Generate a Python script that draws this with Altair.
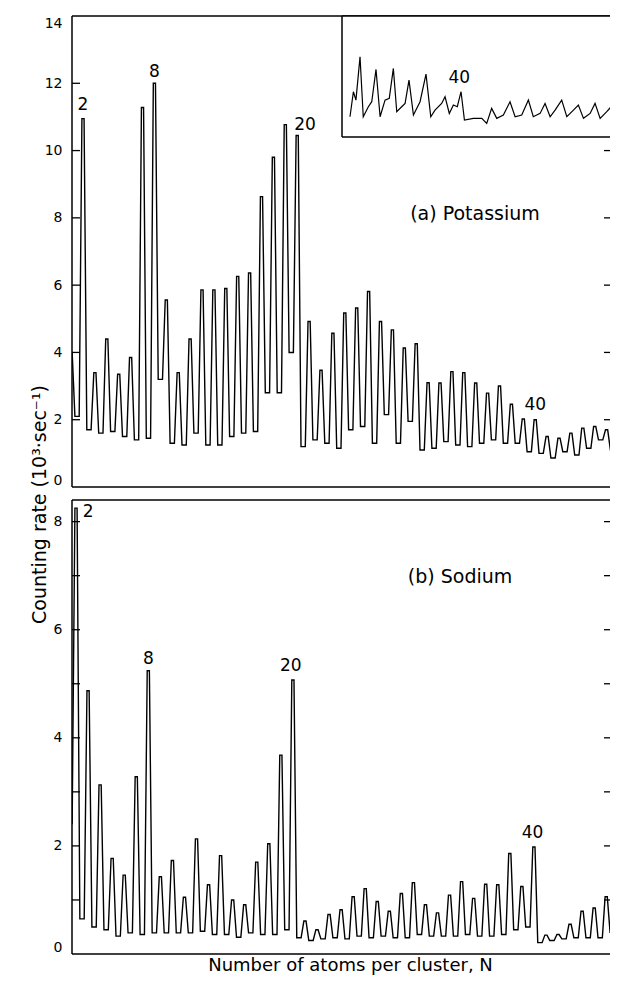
import altair as alt
import pandas as pd

# ---------------- data ----------------
# (a) Potassium: peak heights (10^3 counts/s) for N = 1..47
k_n = list(range(1, 48))
k_peak = [4.0, 10.95, 3.4, 4.4, 3.35, 3.85, 11.28, 12.0, 5.56, 3.4,
          4.4, 5.86, 5.86, 5.9, 6.26, 6.36, 8.63, 9.8, 10.77, 10.45,
          4.92, 3.47, 4.57, 5.17, 5.32, 5.81, 4.92, 4.67, 4.13, 4.26,
          3.1, 3.09, 3.43, 3.4, 3.09, 2.79, 3.0, 2.46, 2.02, 2.0,
          1.5, 1.45, 1.6, 1.75, 1.8, 1.7, 1.75]
# minimum between N=i and N=i+1, i = 0..47
k_valley = [3.0, 2.1, 1.7, 1.6, 1.65, 1.5, 1.4, 1.45, 3.2, 1.3,
            1.25, 1.6, 1.25, 1.25, 1.5, 1.6, 1.65, 2.8, 2.8, 4.0,
            1.2, 1.4, 1.3, 1.15, 1.7, 1.8, 1.3, 2.15, 1.3, 1.95,
            1.1, 1.15, 1.35, 1.25, 1.2, 1.3, 1.4, 1.3, 1.3, 1.05,
            1.0, 0.86, 1.05, 0.95, 1.15, 1.4, 1.1, 1.3]

# (b) Sodium: peak heights for N = 2..47
na_n = list(range(2, 48))
na_peak = [8.25, 4.87, 3.13, 1.77, 1.46, 3.28, 5.24, 1.43, 1.73, 1.05,
           2.13, 1.28, 1.82, 1.0, 0.91, 1.70, 2.04, 3.68, 5.07, 0.61,
           0.45, 0.73, 0.82, 1.06, 1.21, 0.97, 0.79, 1.12, 1.32, 0.91,
           0.76, 1.09, 1.34, 1.03, 1.29, 1.28, 1.86, 1.25, 1.98, 0.35,
           0.36, 0.55, 0.79, 0.85, 1.06, 0.97]
# minimum between N=i and N=i+1, i = 1..47
na_valley = [2.4, 0.65, 0.5, 0.45, 0.33, 0.39, 0.36, 0.39, 0.39, 0.39,
             0.39, 0.42, 0.36, 0.36, 0.31, 0.39, 0.36, 0.36, 0.45, 0.3,
             0.25, 0.28, 0.3, 0.28, 0.33, 0.3, 0.33, 0.3, 0.3, 0.36,
             0.33, 0.33, 0.33, 0.36, 0.33, 0.33, 0.36, 0.45, 0.5, 0.21,
             0.25, 0.28, 0.3, 0.3, 0.3, 0.4, 0.5]

# inset trace (potassium, N ~ 33..49), read point by point
inset_n = [33.47, 33.67, 33.82, 34.06, 34.25, 34.55, 34.75, 35.0, 35.24, 35.53,
           35.78, 36.02, 36.22, 36.51, 36.71, 36.94, 37.2, 37.59, 37.94, 38.22,
           38.47, 38.86, 39.06, 39.31, 39.55, 39.78, 40.0, 40.2, 40.73, 41.22,
           41.51, 41.8, 42.1, 42.49, 42.88, 43.18, 43.57, 43.96, 44.25, 44.65,
           44.94, 45.24, 45.53, 45.92, 46.22, 46.61, 46.9, 47.2, 47.59, 47.88,
           48.18, 48.57, 48.86, 49.06]
inset_rate = [2.01, 4.49, 3.66, 7.95, 2.01, 3.0, 3.5, 6.7, 2.01, 3.66,
              3.83, 6.8, 2.51, 3.0, 3.33, 5.64, 2.18, 3.5, 6.24, 2.01,
              2.67, 3.33, 3.99, 2.34, 3.17, 3.0, 4.49, 1.68, 1.85, 1.85,
              1.35, 2.84, 1.85, 2.18, 3.5, 2.01, 2.18, 3.66, 2.01, 2.34,
              3.33, 2.01, 2.67, 3.66, 2.01, 2.67, 3.17, 1.85, 2.34, 3.33,
              1.85, 2.51, 3.07, 2.18]

# annotations
k_lab_text = ["2", "8", "20", "40"]
k_lab_n = [2.0, 8.0, 20.66, 40.0]
k_lab_rate = [11.34, 12.35, 10.77, 2.44]
na_lab_text = ["2", "8", "20", "40"]
na_lab_n = [3.0, 8.0, 19.82, 39.88]
na_lab_rate = [8.18, 5.46, 5.33, 2.24]
inset_lab = ["40"]
inset_lab_n = [39.9]
inset_lab_rate = [5.84]

top_ticks = [2, 4, 6, 8, 10, 12]
top_labels = [0, 2, 4, 6, 8, 10, 12, 14]
bot_ticks = [1, 2, 3, 4, 5, 6, 7, 8]
bot_labels = [0, 2, 4, 6, 8]

# ---------------- layout (pixels inside the single plot area) ----------------
W = 538
H = 938
TOP_Y0, TOP_Y1 = 0, 471        # top panel
BOT_Y0, BOT_Y1 = 484, 938      # bottom panel
INSET_X0, INSET_Y1 = 270, 121
FONT = "DejaVu Sans"
LW = 1.5
HALF_BASE = 0.32
HALF_TOP = 0.09


def spectrum(ns, peaks, before, after):
    xs, ys = [], []
    for n, p, b, a in zip(ns, peaks, before, after):
        xs += [n - HALF_BASE, n - HALF_TOP, n + HALF_TOP, n + HALF_BASE]
        ys += [b, p, p, a]
    return pd.DataFrame({"n": xs, "rate": ys, "i": list(range(len(xs)))})


k_df = spectrum(k_n, k_peak, k_valley[:-1], k_valley[1:])
na_df = spectrum(na_n, na_peak, na_valley[:-1], na_valley[1:])
inset_df = pd.DataFrame({"n": inset_n, "rate": inset_rate, "i": list(range(len(inset_n)))})
one = pd.DataFrame({"a": [0]})


def hline(y, x0, x1):
    return alt.Chart(one).mark_rule(color="black", strokeWidth=LW).encode(
        x=alt.value(x0), x2=alt.value(x1), y=alt.value(y))


def vline(x, y0, y1):
    return alt.Chart(one).mark_rule(color="black", strokeWidth=LW).encode(
        x=alt.value(x), y=alt.value(y0), y2=alt.value(y1))


def panel(df, xdom, ydom, y0, y1, ticks, labels, lab_df, panel_text, x_axis, y_title):
    x = alt.X("n:Q", scale=alt.Scale(domain=xdom, range=[0, W], nice=False, zero=False),
              axis=x_axis)
    yaxis_kw = dict(orient="left", values=labels, ticks=False, tickSize=0, domain=False,
                    grid=False, labelFontSize=14, labelPadding=10, labelFlush=True,
                    labelColor="black", labelFont=FONT)
    if y_title:
        yaxis_kw.update(title="Counting rate  (10³·sec⁻¹)", titleFontSize=19,
                        titleFontWeight="normal", titleColor="black", titleFont=FONT,
                        titleAngle=270, titleX=-27, titleY=488, titleAlign="center",
                        titleBaseline="alphabetic")
    else:
        yaxis_kw.update(title="")
    y = alt.Y("rate:Q", scale=alt.Scale(domain=ydom, range=[y1, y0], nice=False, zero=False),
              axis=alt.Axis(**yaxis_kw))
    trace = alt.Chart(df).mark_line(color="black", strokeWidth=1.4, clip=True).encode(
        x=x, y=y, order="i:Q")
    tdf = pd.DataFrame({"rate": ticks})
    lt = alt.Chart(tdf).mark_rule(color="black", strokeWidth=1.3).encode(
        y=y, x=alt.value(0), x2=alt.value(8))
    rt = alt.Chart(tdf).mark_rule(color="black", strokeWidth=1.3).encode(
        y=y, x=alt.value(W - 6), x2=alt.value(W))
    labs = alt.Chart(lab_df).mark_text(fontSize=17, font=FONT, color="black",
                                       align="center", baseline="middle").encode(
        x=x, y=y, text="label:N")
    ptxt = alt.Chart(panel_text).mark_text(fontSize=19, font=FONT, color="black",
                                           align="center", baseline="middle").encode(
        x=x, y=y, text="label:N")
    frame = [hline(y0, 0, W), hline(y1, 0, W), vline(0, y0, y1)]
    return alt.layer(lt, rt, trace, labs, ptxt, *frame)


k_lab_df = pd.DataFrame({"n": k_lab_n, "rate": k_lab_rate, "label": k_lab_text})
na_lab_df = pd.DataFrame({"n": na_lab_n, "rate": na_lab_rate, "label": na_lab_text})
k_panel_txt = pd.DataFrame({"n": [34.94], "rate": [8.12], "label": ["(a)  Potassium"]})
na_panel_txt = pd.DataFrame({"n": [33.87], "rate": [6.97], "label": ["(b)  Sodium"]})

top = panel(k_df, [1.076, 46.286], [0, 14], TOP_Y0, TOP_Y1, top_ticks, top_labels,
            k_lab_df, k_panel_txt, None, True)

xaxis_bot = alt.Axis(orient="bottom", labels=False, ticks=False, tickSize=0, domain=False,
                     grid=False, title="Number of atoms per cluster, N", titleFontSize=18,
                     titleFontWeight="normal", titleColor="black", titleFont=FONT,
                     titleX=278, titleY=16, titleAlign="center", titleBaseline="alphabetic")
bottom = panel(na_df, [1.668, 46.315], [0, 8.4], BOT_Y0, BOT_Y1, bot_ticks, bot_labels,
               na_lab_df, na_panel_txt, xaxis_bot, False)

# inset (own scales placed in the upper right corner of panel a)
ix = alt.X("n:Q", scale=alt.Scale(domain=[33.0, 48.76], range=[INSET_X0, W], nice=False,
                                  zero=False), axis=None)
iy = alt.Y("rate:Q", scale=alt.Scale(domain=[0, 12], range=[INSET_Y1, 0], nice=False,
                                     zero=False), axis=None)
inset_bg = alt.Chart(one).mark_rect(fill="white").encode(
    x=alt.value(INSET_X0), x2=alt.value(W), y=alt.value(0), y2=alt.value(INSET_Y1))
inset_trace = alt.Chart(inset_df).mark_line(color="black", strokeWidth=1.2, clip=True).encode(
    x=ix, y=iy, order="i:Q")
inset_text = alt.Chart(pd.DataFrame({"n": inset_lab_n, "rate": inset_lab_rate,
                                     "label": inset_lab})).mark_text(
    fontSize=17, font=FONT, color="black", align="center", baseline="middle").encode(
    x=ix, y=iy, text="label:N")
inset = alt.layer(inset_bg, inset_trace, inset_text,
                  hline(0, INSET_X0, W), hline(INSET_Y1, INSET_X0, W),
                  vline(INSET_X0, 0, INSET_Y1))

chart = alt.layer(top, inset, bottom).resolve_scale(
    x="independent", y="independent").properties(
    width=W, height=H,
    autosize=alt.AutoSizeParams(type="none"),
    padding={"left": 64, "top": 8, "right": 0, "bottom": 21},
).configure(font=FONT, background="white").configure_view(stroke="transparent")

chart.save("out.html", embed_options={"renderer": "svg", "actions": False})
